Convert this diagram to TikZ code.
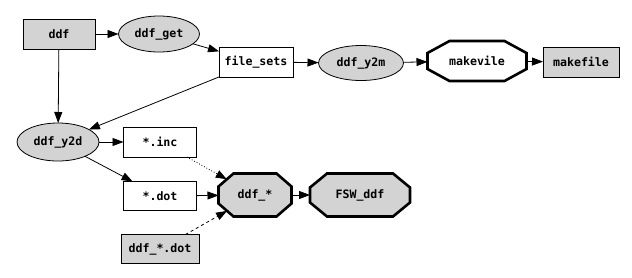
\documentclass[tikz,border=0pt]{standalone}
\usepackage{fontspec}
\newfontfamily\gvmono{DejaVu Sans Mono}
\usetikzlibrary{shapes.geometric,arrows.meta}
\definecolor{lg}{HTML}{D3D3D3}
\makeatletter
\pgfkeys{/pgf/gvo cx/.initial=15pt,/pgf/gvo cy/.initial=12pt}
\pgfdeclareshape{gvoct}{%
  \inheritsavedanchors[from=rectangle]%
  \savedanchor\gvochamfer{%
    \pgf@x=\pgfkeysvalueof{/pgf/gvo cx}\relax
    \pgf@y=\pgfkeysvalueof{/pgf/gvo cy}\relax
  }%
  \inheritanchor[from=rectangle]{center}%
  \inheritanchor[from=rectangle]{north}%
  \inheritanchor[from=rectangle]{south}%
  \inheritanchor[from=rectangle]{east}%
  \inheritanchor[from=rectangle]{west}%
  \inheritanchor[from=rectangle]{text}%
  \inheritanchor[from=rectangle]{base}%
  \inheritanchor[from=rectangle]{mid}%
  \backgroundpath{%
    \southwest\edef\gvo@xa{\the\pgf@x}\edef\gvo@ya{\the\pgf@y}%
    \northeast\edef\gvo@xb{\the\pgf@x}\edef\gvo@yb{\the\pgf@y}%
    \gvochamfer\edef\gvo@cx{\the\pgf@x}\edef\gvo@cy{\the\pgf@y}%
    \pgfpathmoveto{\pgfqpoint{\dimexpr\gvo@xa+\gvo@cx\relax}{\gvo@ya}}%
    \pgfpathlineto{\pgfqpoint{\dimexpr\gvo@xb-\gvo@cx\relax}{\gvo@ya}}%
    \pgfpathlineto{\pgfqpoint{\gvo@xb}{\dimexpr\gvo@ya+\gvo@cy\relax}}%
    \pgfpathlineto{\pgfqpoint{\gvo@xb}{\dimexpr\gvo@yb-\gvo@cy\relax}}%
    \pgfpathlineto{\pgfqpoint{\dimexpr\gvo@xb-\gvo@cx\relax}{\gvo@yb}}%
    \pgfpathlineto{\pgfqpoint{\dimexpr\gvo@xa+\gvo@cx\relax}{\gvo@yb}}%
    \pgfpathlineto{\pgfqpoint{\gvo@xa}{\dimexpr\gvo@yb-\gvo@cy\relax}}%
    \pgfpathlineto{\pgfqpoint{\gvo@xa}{\dimexpr\gvo@ya+\gvo@cy\relax}}%
    \pgfpathclose
  }%
  \anchorborder{%
    \edef\gvo@dx{\pgf@sys@tonumber\pgf@x}\edef\gvo@dy{\pgf@sys@tonumber\pgf@y}%
    \southwest\pgf@xa=\pgf@x\pgf@ya=\pgf@y
    \northeast\pgf@xb=\pgf@x\pgf@yb=\pgf@y
    \pgf@xc=\pgf@xb\advance\pgf@xc by-\pgf@xa\pgf@xc=.5\pgf@xc
    \pgf@yc=\pgf@yb\advance\pgf@yc by-\pgf@ya\pgf@yc=.5\pgf@yc
    \advance\pgf@xa by\pgf@xc\advance\pgf@ya by\pgf@yc
    \edef\gvo@a{\pgf@sys@tonumber\pgf@xc}\edef\gvo@b{\pgf@sys@tonumber\pgf@yc}%
    \edef\gvo@mx{\the\pgf@xa}\edef\gvo@my{\the\pgf@ya}%
    \gvochamfer\edef\gvo@cx{\pgf@sys@tonumber\pgf@x}\edef\gvo@cy{\pgf@sys@tonumber\pgf@y}%
    \pgfmathparse{max(abs(\gvo@dx),0.01)}\let\gvo@ax\pgfmathresult
    \pgfmathparse{max(abs(\gvo@dy),0.01)}\let\gvo@ay\pgfmathresult
    \pgfmathparse{min(\gvo@a/\gvo@ax,\gvo@b/\gvo@ay,(\gvo@a/\gvo@cx+\gvo@b/\gvo@cy-1)/(\gvo@ax/\gvo@cx+\gvo@ay/\gvo@cy))}%
    \let\gvo@t\pgfmathresult
    \pgf@x=\gvo@dx pt\relax\pgf@x=\gvo@t\pgf@x\advance\pgf@x by\gvo@mx\relax
    \pgf@y=\gvo@dy pt\relax\pgf@y=\gvo@t\pgf@y\advance\pgf@y by\gvo@my\relax
  }%
}
\makeatother
\tikzset{
  lbl/.style={font=\gvmono\bfseries\fontsize{11.6}{13}\selectfont, inner sep=0pt, outer sep=0pt, line width=0.8pt, draw=black},
  boxw/.style={lbl, rectangle, fill=white, minimum height=30pt},
  boxg/.style={lbl, rectangle, fill=lg, minimum height=30pt},
  ell/.style={lbl, ellipse, fill=lg, minimum height=36pt},
  octo/.style={lbl, gvoct, line width=2.6pt},
  edge/.style={line width=0.8pt, -{Triangle[length=11pt,width=8pt]}},
}
\begin{document}
\begin{tikzpicture}[x=1pt,y=-1pt]
\useasboundingbox (0,0) rectangle (632,277);
\node[boxg, minimum width=72pt] (ddf) at (59,34) {ddf};
\node[ell, minimum width=81pt] (get) at (159,34) {ddf\_get};
\node[boxw, minimum width=74pt] (fs) at (256,62) {file\_sets};
\node[ell, minimum width=85pt, minimum height=35pt] (y2m) at (361,63) {ddf\_y2m};
\node[octo, fill=white, minimum width=99pt, minimum height=40pt, /pgf/gvo cx=22pt, /pgf/gvo cy=12pt] (mv) at (477,61) {makevile};
\node[boxg, minimum width=76pt] (mf) at (581,62) {makefile};
\node[ell, minimum width=82pt, minimum height=38pt] (y2d) at (58,142) {ddf\_y2d};
\node[boxw, minimum width=73pt] (inc) at (160,142) {*.inc};
\node[boxw, minimum width=73pt, minimum height=29pt] (dot) at (160,196) {*.dot};
\node[octo, fill=lg, minimum width=73pt, minimum height=43pt, /pgf/gvo cx=15pt, /pgf/gvo cy=13pt] (dstar) at (255,195) {ddf\_*};
\node[octo, fill=lg, minimum width=100pt, minimum height=43pt, /pgf/gvo cx=17pt, /pgf/gvo cy=14pt] (fsw) at (360,195) {FSW\_ddf};
\node[boxg, minimum width=78pt, minimum height=29pt] (ddot) at (160,249) {ddf\_*.dot};
\draw[edge] (ddf) -- (get);
\draw[edge] (get) -- (fs);
\draw[edge] (fs) -- (y2m);
\draw[edge] (y2m) -- (mv);
\draw[edge] (mv) -- (mf);
\draw[edge] (ddf) -- (y2d);
\draw[edge] (fs) -- (y2d);
\draw[edge] (y2d) -- (inc);
\draw[edge] (y2d) -- (dot);
\draw[edge, dotted] (inc) -- (dstar);
\draw[edge] (dot) -- (dstar);
\draw[edge, dashed] (ddot) -- (dstar);
\draw[edge] (dstar) -- (fsw);
\end{tikzpicture}
\end{document}
